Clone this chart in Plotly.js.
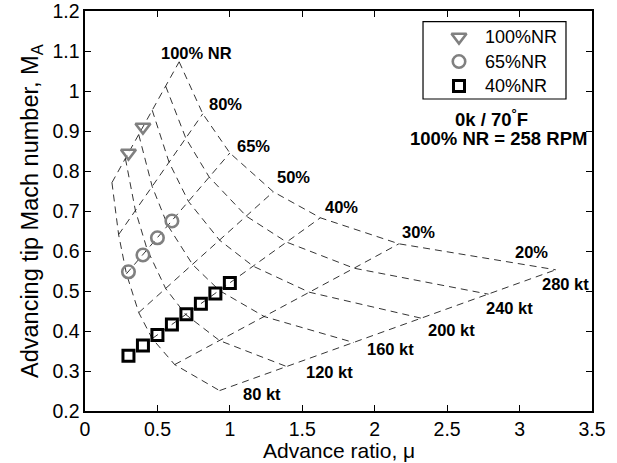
<!DOCTYPE html>
<html>
<head>
<meta charset="utf-8">
<script src="https://cdn.plot.ly/plotly-3.0.1.min.js"></script>
<style>html,body{margin:0;padding:0;background:#fff;}#chart{width:617px;height:463px;}</style>
</head>
<body>
<div id="chart"></div>
<script>
// Carpet grid: rows = rotor speed (%NR), columns = airspeed
const nrLabels = ['100% NR', '80%', '65%', '50%', '40%', '30%', '20%'];
const speedLabels = ['80 kt', '120 kt', '160 kt', '200 kt', '240 kt', '280 kt'];
const gridMu = [
  [0.186, 0.279, 0.371, 0.464, 0.557, 0.650],
  [0.232, 0.348, 0.464, 0.580, 0.696, 0.813],
  [0.286, 0.429, 0.571, 0.714, 0.857, 1.000],
  [0.371, 0.557, 0.743, 0.929, 1.114, 1.300],
  [0.464, 0.696, 0.929, 1.161, 1.393, 1.625],
  [0.619, 0.929, 1.238, 1.548, 1.857, 2.167],
  [0.929, 1.393, 1.857, 2.321, 2.786, 3.250]
];
const gridM = [
  [0.771, 0.831, 0.891, 0.952, 1.012, 1.073],
  [0.641, 0.701, 0.761, 0.822, 0.882, 0.943],
  [0.543, 0.604, 0.664, 0.724, 0.785, 0.845],
  [0.446, 0.506, 0.566, 0.627, 0.687, 0.748],
  [0.381, 0.441, 0.501, 0.562, 0.622, 0.683],
  [0.316, 0.376, 0.436, 0.497, 0.557, 0.618],
  [0.251, 0.311, 0.371, 0.432, 0.492, 0.553]
];
// Test points
const mu100 = [0.3, 0.4];
const M100 = [0.845, 0.910];
const mu65 = [0.3, 0.4, 0.5, 0.6];
const M65 = [0.548, 0.590, 0.633, 0.675];
const mu40 = [0.3, 0.4, 0.5, 0.6, 0.7, 0.8, 0.9, 1.0];
const M40 = [0.338, 0.364, 0.390, 0.416, 0.442, 0.468, 0.494, 0.520];
const seriesNames = ['100%NR', '65%NR', '40%NR'];

// Label placements (data coordinates)
const nrLabelPos = [[0.77, 1.095], [0.97, 0.967], [1.16, 0.862], [1.44, 0.785], [1.77, 0.71], [2.30, 0.648], [3.08, 0.597]];
const speedLabelPos = [[1.22, 0.243], [1.69, 0.297], [2.11, 0.355], [2.53, 0.402], [2.93, 0.457], [3.32, 0.517]];

const FONT = 'Liberation Sans, Arial, Helvetica, sans-serif';
const dashStyle = '7px,5px';
const GRAY = '#808080';
const markerStyles = [
  {symbol: 'triangle-down-open', size: 13, color: GRAY, line: {width: 2.6, color: GRAY}},
  {symbol: 'circle-open', size: 12.5, color: GRAY, line: {width: 2.6, color: GRAY}},
  {symbol: 'square-open', size: 11, color: '#000', line: {width: 3, color: '#000'}}
];

const traces = [];
gridMu.forEach((row, i) => {
  traces.push({x: row, y: gridM[i], mode: 'lines', type: 'scatter', hoverinfo: 'skip',
    line: {color: '#000', width: 0.8, dash: dashStyle}});
});
speedLabels.forEach((s, j) => {
  traces.push({x: gridMu.map(r => r[j]), y: gridM.map(r => r[j]), mode: 'lines', type: 'scatter', hoverinfo: 'skip',
    line: {color: '#000', width: 0.8, dash: dashStyle}});
});
const seriesX = [mu100, mu65, mu40];
const seriesY = [M100, M65, M40];
seriesNames.forEach((n, i) => {
  traces.push({x: seriesX[i], y: seriesY[i], name: n, mode: 'markers', type: 'scatter', marker: markerStyles[i]});
});
// Legend keys (drawn on a hidden category subplot placed inside the legend box)
seriesNames.forEach((n, i) => {
  traces.push({x: ['key'], y: [n], xaxis: 'x2', yaxis: 'y2', mode: 'markers', type: 'scatter', marker: markerStyles[i], hoverinfo: 'skip'});
});

const annotations = [];
nrLabels.forEach((t, i) => annotations.push({x: nrLabelPos[i][0], y: nrLabelPos[i][1], xref: 'x', yref: 'y', text: '<b>' + t + '</b>', showarrow: false, font: {family: FONT, size: 16.5, color: '#000'}}));
speedLabels.forEach((t, i) => annotations.push({x: speedLabelPos[i][0], y: speedLabelPos[i][1], xref: 'x', yref: 'y', text: '<b>' + t + '</b>', showarrow: false, font: {family: FONT, size: 16.5, color: '#000'}}));
annotations.push({x: 2.807, y: 0.9325, xref: 'x', yref: 'y', text: '<b>0k / 70<sup>°</sup>F</b>', showarrow: false, font: {family: FONT, size: 18.5, color: '#000'}});
annotations.push({x: 2.852, y: 0.8825, xref: 'x', yref: 'y', text: '<b>100% NR = 258 RPM</b>', showarrow: false, font: {family: FONT, size: 18.5, color: '#000'}});
seriesNames.forEach(n => annotations.push({x: (483 - 85) / 507, xref: 'paper', xanchor: 'left', y: n, yref: 'y2', text: n, showarrow: false,
  font: {family: FONT, size: 18, color: '#000'}}));
// Axis titles
annotations.push({x: 0.5, y: 0, xref: 'paper', yref: 'paper', yshift: -39.5, yanchor: 'middle', text: 'Advance ratio, μ', showarrow: false,
  font: {family: FONT, size: 21, color: '#000'}});
annotations.push({x: 0, y: 0.5, xref: 'paper', yref: 'paper', xshift: -54, xanchor: 'center', yanchor: 'middle', textangle: -90,
  text: 'Advancing tip Mach number, M<sub>A</sub>', showarrow: false, font: {family: FONT, size: 23.5, color: '#000'}});

const axisCommon = {showgrid: false, zeroline: false, showline: true, linecolor: '#000', linewidth: 1.6, mirror: 'ticks',
  ticks: 'inside', ticklen: 6, tickwidth: 1, tickcolor: '#000', ticklabeloverflow: 'allow',
  tickfont: {family: FONT, size: 19.5, color: '#000'}};

const layout = {
  width: 617, height: 463,
  margin: {l: 85, r: 25, t: 11, b: 52},
  paper_bgcolor: '#fff', plot_bgcolor: '#fff',
  font: {family: FONT, color: '#000'},
  showlegend: false,
  xaxis: Object.assign({}, axisCommon, {range: [0, 3.5], domain: [0, 1], anchor: 'y',
    tickvals: [0, 0.5, 1, 1.5, 2, 2.5, 3, 3.5], ticktext: ['0', '0.5', '1', '1.5', '2', '2.5', '3', '3.5']}),
  yaxis: Object.assign({}, axisCommon, {range: [0.2, 1.2], domain: [0, 1], anchor: 'x',
    tickvals: [0.2, 0.3, 0.4, 0.5, 0.6, 0.7, 0.8, 0.9, 1, 1.1, 1.2], ticktext: ['0.2', '0.3', '0.4', '0.5', '0.6', '0.7', '0.8', '0.9', '1', '1.1', '1.2']}),
  xaxis2: {domain: [(449 - 85) / 507, (469 - 85) / 507], anchor: 'y2', type: 'category', range: [-0.5, 0.5], visible: false, showgrid: false, zeroline: false},
  yaxis2: {domain: [0.7819, 0.9656], anchor: 'x2', type: 'category', categoryorder: 'array', categoryarray: seriesNames, range: [2.5, -0.5], visible: false, showgrid: false, zeroline: false},
  shapes: [{type: 'rect', xref: 'paper', yref: 'paper', x0: 0.6667, x1: 0.9487, y0: 0.78, y1: 0.9733,
    line: {color: '#000', width: 1.2}, fillcolor: 'rgba(255,255,255,0)', layer: 'above'}],
  annotations: annotations
};
Plotly.newPlot('chart', traces, layout, {staticPlot: true, displayModeBar: false});
</script>
</body>
</html>
